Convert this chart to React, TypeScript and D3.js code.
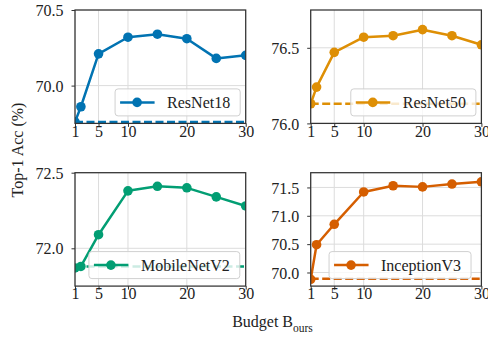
import React, { useEffect, useRef } from 'react';
import * as d3 from 'd3';

// budgets on the x axis
const budgets = [1, 2, 5, 10, 15, 20, 25, 30];
const xTicks = [1, 5, 10, 20, 30];

const modelNames = ['ResNet18', 'ResNet50', 'MobileNetV2', 'InceptionV3'];
const resnet18 = [69.76, 69.86, 70.21, 70.32, 70.34, 70.31, 70.18, 70.2];
const resnet50 = [76.13, 76.24, 76.47, 76.57, 76.58, 76.62, 76.58, 76.52];
const mobilenetv2 = [71.87, 71.88, 72.09, 72.38, 72.41, 72.4, 72.34, 72.28];
const inceptionv3 = [69.88, 70.49, 70.85, 71.42, 71.53, 71.51, 71.56, 71.6];
const baselines = [69.76, 76.13, 71.88, 69.89];

const yDomains = [
  [69.75, 70.5],
  [76.0, 76.75],
  [71.75, 72.5],
  [69.76, 71.76],
];
const yTicks = [
  [70.0, 70.5],
  [76.0, 76.5],
  [72.0, 72.5],
  [70.0, 70.5, 71.0, 71.5],
];
const colors = ['#0173b2', '#de8f05', '#029e73', '#d55e00'];
const legendLoc = ['right', 'right', 'center', 'center'];

export default function App() {
  const svgRef = useRef<SVGSVGElement>(null);

  useEffect(() => {
    const svg = d3.select(svgRef.current);
    svg.selectAll('*').remove();

    const width = 488;
    const height = 337;
    const font = '"Liberation Serif", "Times New Roman", serif';
    const series = [resnet18, resnet50, mobilenetv2, inceptionv3];
    const lefts = [75, 310.7];
    const tops = [10, 172.7];
    const pw = 170.7;
    const ph = 113.4;

    svg.append('rect').attr('width', width).attr('height', height).attr('fill', 'white');

    series.forEach((vals, i) => {
      const ox = lefts[i % 2];
      const oy = tops[Math.floor(i / 2)];
      const g = svg.append('g').attr('transform', `translate(${ox},${oy})`);

      const x = d3.scaleLinear().domain([1, 30]).range([0, pw]);
      const y = d3.scaleLinear().domain(yDomains[i]).range([ph, 0]);

      const clipId = `clip${i}`;
      g.append('clipPath').attr('id', clipId)
        .append('rect').attr('width', pw).attr('height', ph);

      // grid
      g.selectAll('.vg').data(xTicks).enter().append('line')
        .attr('x1', d => x(d)).attr('x2', d => x(d))
        .attr('y1', 0).attr('y2', ph)
        .attr('stroke', '#dcdcdc').attr('stroke-width', 1);
      g.selectAll('.hg').data(yTicks[i]).enter().append('line')
        .attr('x1', 0).attr('x2', pw)
        .attr('y1', d => y(d)).attr('y2', d => y(d))
        .attr('stroke', '#dcdcdc').attr('stroke-width', 1);

      const plot = g.append('g').attr('clip-path', `url(#${clipId})`);

      // baseline
      plot.append('line')
        .attr('x1', 0).attr('x2', pw)
        .attr('y1', y(baselines[i])).attr('y2', y(baselines[i]))
        .attr('stroke', colors[i]).attr('stroke-width', 2.5)
        .attr('stroke-dasharray', '8,3.5');

      const line = d3.line<number>()
        .x((_, j) => x(budgets[j]))
        .y(d => y(d));

      plot.append('path').datum(vals)
        .attr('d', line)
        .attr('fill', 'none')
        .attr('stroke', colors[i])
        .attr('stroke-width', 2.5)
        .attr('stroke-linejoin', 'round');

      plot.selectAll('circle').data(vals).enter().append('circle')
        .attr('cx', (_, j) => x(budgets[j]))
        .attr('cy', d => y(d))
        .attr('r', 4.8)
        .attr('fill', colors[i]);

      // legend
      const lg = g.append('g');
      const txt = lg.append('text')
        .attr('font-family', font).attr('font-size', 16).attr('fill', '#222')
        .text(modelNames[i]);
      const tw = (txt.node() as SVGTextElement).getComputedTextLength();
      const bw = tw + 62;
      const bh = 27;
      const bx = legendLoc[i] === 'right' ? pw - 5.5 - bw : (pw - bw) / 2 + 4;
      const by = ph - 7.5 - bh;
      lg.insert('rect', 'text')
        .attr('x', bx).attr('y', by).attr('width', bw).attr('height', bh)
        .attr('rx', 3)
        .attr('fill', 'white').attr('fill-opacity', 0.8)
        .attr('stroke', '#d0d0d0').attr('stroke-width', 1);
      lg.insert('line', 'text')
        .attr('x1', bx + 5).attr('x2', bx + 39.5)
        .attr('y1', by + bh / 2).attr('y2', by + bh / 2)
        .attr('stroke', colors[i]).attr('stroke-width', 2.5);
      lg.insert('circle', 'text')
        .attr('cx', bx + 22).attr('cy', by + bh / 2).attr('r', 4.8)
        .attr('fill', colors[i]);
      txt.attr('x', bx + 52).attr('y', by + bh / 2 + 5.5);

      // axes
      const xAxis = g.append('g').attr('transform', `translate(0,${ph})`)
        .call(d3.axisBottom(x).tickValues(xTicks).tickSize(3.5).tickPadding(-1.5).tickFormat(d3.format('d')));
      const yAxis = g.append('g')
        .call(d3.axisLeft(y).tickValues(yTicks[i]).tickSize(3.5).tickPadding(8).tickFormat(d3.format('.1f')));
      [xAxis, yAxis].forEach(a => {
        a.attr('font-family', font);
        a.select('.domain').remove();
        a.selectAll('line').attr('stroke', '#333').attr('stroke-width', 1);
        a.selectAll('text').attr('font-family', font).attr('font-size', 16).attr('fill', '#222');
      });
      yAxis.selectAll('text').attr('dy', '0.35em');

      // spines
      g.append('rect').attr('width', pw).attr('height', ph)
        .attr('fill', 'none').attr('stroke', '#333').attr('stroke-width', 1.25);
    });

    // axis labels
    svg.append('text')
      .attr('transform', 'translate(23,150) rotate(-90)')
      .attr('text-anchor', 'middle')
      .attr('font-family', font).attr('font-size', 16).attr('fill', '#222')
      .text('Top-1 Acc (%)');

    const xl = svg.append('text')
      .attr('x', 272.5).attr('y', 326.7)
      .attr('text-anchor', 'middle')
      .attr('font-family', font).attr('font-size', 16).attr('fill', '#222');
    xl.append('tspan').text('Budget B');
    xl.append('tspan').attr('font-size', 11.5).attr('dy', 5).text('ours');
  }, []);

  return (
    <svg
      ref={svgRef}
      width={488}
      height={337}
      style={{ position: 'absolute', left: 0, top: 0, backgroundColor: 'white' }}
    />
  );
}
